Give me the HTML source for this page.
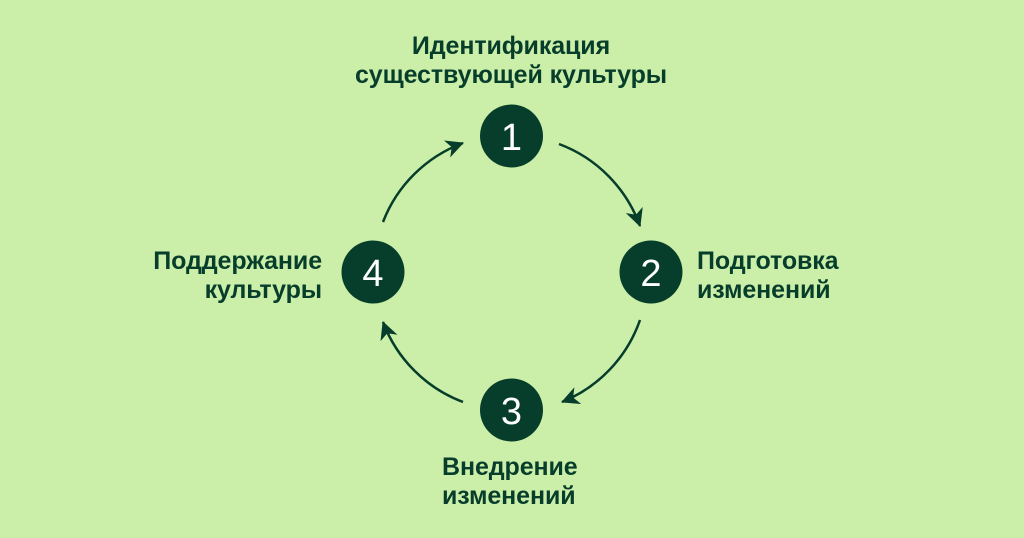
<!DOCTYPE html>
<html><head><meta charset="utf-8"><style>
html,body{margin:0;padding:0}
body{width:1024px;height:538px;background:#cbeea8;position:relative;overflow:hidden;font-family:"Liberation Sans",sans-serif}
.t{position:absolute;color:#063d2b;font-weight:bold;font-size:25px;line-height:29px;white-space:nowrap;letter-spacing:-0.1px}
</style></head><body>
<svg width="1024" height="538" style="position:absolute;left:0;top:0">
<defs><marker id="a" markerWidth="20" markerHeight="18" refX="17" refY="9" orient="auto" markerUnits="userSpaceOnUse">
<path d="M0,0 L18,9 L0,18 L5,9 Z" fill="#063d2b"/></marker></defs>
<g fill="none" stroke="#063d2b" stroke-width="2.5" marker-end="url(#a)">
<path d="M559,144 A137,137 0 0 1 640,226"/>
<path d="M640,320 A137,137 0 0 1 562,402"/>
<path d="M463,402 A137,137 0 0 1 383,322"/>
<path d="M383,222 A137,137 0 0 1 463,143"/>
</g>
<g fill="#063d2b">
<circle cx="511.5" cy="136" r="31.5"/><circle cx="651" cy="272" r="31.5"/>
<circle cx="511.5" cy="410" r="31.5"/><circle cx="373" cy="272" r="31.5"/>
</g>
<g fill="#fff" font-family="Liberation Sans,sans-serif" font-size="38" text-anchor="middle">
<text x="511.5" y="150">1</text><text x="651" y="286">2</text>
<text x="511.5" y="424">3</text><text x="373" y="286">4</text>
</g>
</svg>
<div class="t" style="left:311px;width:400px;text-align:center;top:32px">Идентификация<br>существующей культуры</div>
<div class="t" style="left:697px;top:247px">Подготовка<br>изменений</div>
<div class="t" style="right:702px;text-align:right;top:247px">Поддержание<br>культуры</div>
<div class="t" style="left:442px;top:453px">Внедрение<br>изменений</div>
</body></html>
